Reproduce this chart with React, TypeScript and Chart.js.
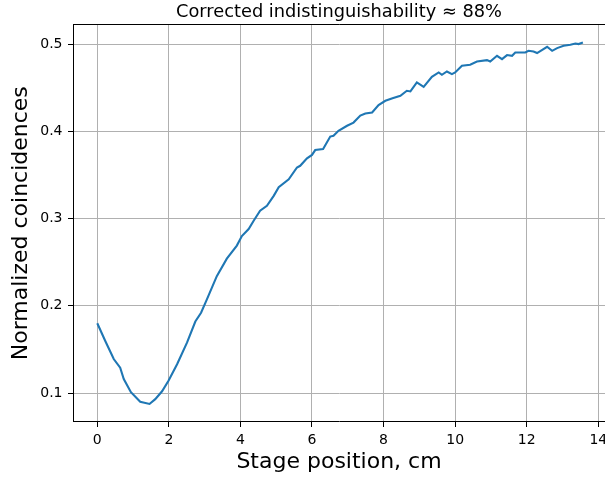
import React, { useEffect, useRef } from "react";
import { Chart, registerables } from "chart.js";

Chart.register(...registerables);

const positions = [
  0, 0.22, 0.46, 0.64, 0.74, 0.94, 1.2, 1.46, 1.62, 1.81, 1.99, 2.23, 2.51, 2.74, 2.9, 3.06,
  3.34, 3.62, 3.9, 4.04, 4.23, 4.37, 4.55, 4.74, 4.93, 5.07, 5.35, 5.58, 5.67, 5.86, 6.0,
  6.09, 6.31, 6.51, 6.6, 6.74, 6.98, 7.16, 7.35, 7.49, 7.68, 7.86, 8.05, 8.25, 8.47, 8.65,
  8.75, 8.93, 9.12, 9.35, 9.54, 9.63, 9.77, 9.91, 10.0, 10.19, 10.42, 10.61, 10.89, 10.98,
  11.17, 11.31, 11.45, 11.59, 11.68, 11.96, 12.05, 12.19, 12.29, 12.57, 12.71, 12.85, 13.03,
  13.22, 13.36, 13.45, 13.57,
];

const coincidences = [
  0.18, 0.16, 0.139, 0.129, 0.116, 0.101, 0.09, 0.0875, 0.093, 0.102, 0.114, 0.133, 0.158,
  0.182, 0.192, 0.207, 0.234, 0.254, 0.269, 0.28, 0.288, 0.2975, 0.309, 0.3147, 0.326, 0.336,
  0.345, 0.3586, 0.3605, 0.369, 0.373, 0.3785, 0.3797, 0.394, 0.395, 0.4006, 0.4064, 0.41,
  0.418, 0.4205, 0.4216, 0.43, 0.435, 0.438, 0.4407, 0.4465, 0.4457, 0.456, 0.451, 0.4625,
  0.4675, 0.4648, 0.4686, 0.4656, 0.4675, 0.4751, 0.4763, 0.48, 0.4816, 0.48, 0.4866, 0.4828,
  0.4874, 0.4866, 0.4904, 0.4904, 0.4923, 0.4915, 0.4897, 0.4969, 0.4923, 0.4954, 0.498,
  0.4992, 0.5007, 0.5, 0.5018,
];

const xTicks = [0, 2, 4, 6, 8, 10, 12, 14];
const yTicks = [0.1, 0.2, 0.3, 0.4, 0.5];

const titleText = "Corrected indistinguishability \u2248 88%";
const xLabel = "Stage position, cm";
const yLabel = "Normalized coincidences";

const FONT = "'DejaVu Sans', sans-serif";

// Top spine (the right spine of the original figure lies just outside the picture)
const framePlugin = {
  id: "frame",
  afterDraw(chart: any) {
    const { ctx, chartArea } = chart;
    ctx.save();
    ctx.strokeStyle = "#000";
    ctx.lineWidth = 1;
    const l = Math.round(chartArea.left) + 0.5;
    const t = Math.round(chartArea.top) + 0.5;
    const r = chart.width + 2;
    ctx.beginPath();
    ctx.moveTo(l, t);
    ctx.lineTo(r, t);
    ctx.stroke();
    ctx.restore();
  },
};

export default function App() {
  const ref = useRef<HTMLCanvasElement | null>(null);

  useEffect(() => {
    document.body.style.margin = "0";
    const canvas = ref.current;
    if (!canvas) return;
    const data = positions.map((x, i) => ({ x, y: coincidences[i] }));
    const chart = new Chart(canvas, {
      type: "line",
      data: {
        datasets: [
          {
            data,
            borderColor: "#1f77b4",
            borderWidth: 2.1,
            pointRadius: 0,
            tension: 0,
            fill: false,
          },
        ],
      },
      plugins: [framePlugin],
      options: {
        animation: false,
        responsive: false,
        devicePixelRatio: 1,
        layout: { padding: { left: 0, right: 0, top: 0, bottom: 0 } },
        plugins: {
          legend: { display: false },
          tooltip: { enabled: false },
          title: {
            display: true,
            text: titleText,
            fullSize: false,
            color: "#000",
            font: { family: FONT, size: 17.8, weight: "normal", lineHeight: 1.2 },
            padding: { top: 1.5, bottom: 1.6 },
          },
        },
        scales: {
          x: {
            type: "linear",
            min: -0.6785,
            max: 14.1875,
            afterBuildTicks: (scale: any) => {
              scale.ticks = xTicks.map((v) => ({ value: v }));
            },
            afterFit: (scale: any) => {
              scale.height = 57;
              scale.paddingLeft = 0;
              scale.paddingRight = 0;
            },
            ticks: {
              color: "#000",
              font: { family: FONT, size: 14 },
              padding: 5,
              maxRotation: 0,
              autoSkip: false,
              callback: (v: any) => String(v),
            },
            grid: {
              color: "#b0b0b0",
              lineWidth: 1,
              tickColor: "#000",
              tickLength: 5,
              drawTicks: true,
            },
            border: { display: true, color: "#000", width: 1 },
            title: {
              display: true,
              text: xLabel,
              color: "#000",
              font: { family: FONT, size: 22, lineHeight: 1.2 },
              padding: { top: 0, bottom: 4 },
            },
          },
          y: {
            type: "linear",
            min: 0.0668,
            max: 0.5225,
            afterBuildTicks: (scale: any) => {
              scale.ticks = yTicks.map((v) => ({ value: v }));
            },
            afterFit: (scale: any) => {
              scale.width = 73;
              scale.paddingTop = 0;
              scale.paddingBottom = 0;
            },
            ticks: {
              color: "#000",
              font: { family: FONT, size: 14 },
              padding: 5.5,
              autoSkip: false,
              callback: (v: any) => Number(v).toFixed(1),
            },
            grid: {
              color: "#b0b0b0",
              lineWidth: 1,
              tickColor: "#000",
              tickLength: 5,
              drawTicks: true,
            },
            border: { display: true, color: "#000", width: 1 },
            title: {
              display: true,
              text: yLabel,
              color: "#000",
              font: { family: FONT, size: 22, lineHeight: 1.2 },
              padding: { top: 8, bottom: 0 },
            },
          },
        },
      },
    } as any);
    return () => chart.destroy();
  }, []);

  return (
    <div
      style={{
        position: "fixed",
        left: 0,
        top: 0,
        width: 605,
        height: 479,
        overflow: "hidden",
        background: "#fff",
      }}
    >
      <canvas ref={ref} width={605} height={479} style={{ display: "block" }} />
    </div>
  );
}
